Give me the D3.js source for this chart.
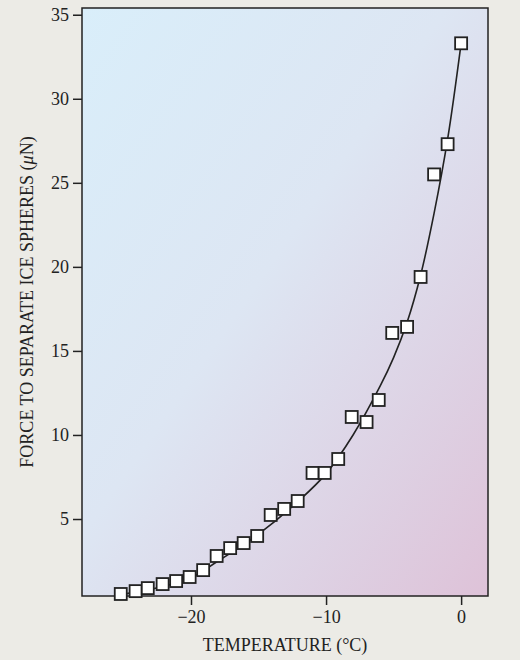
<!DOCTYPE html><html><head><meta charset="utf-8">
<script src="https://cdn.jsdelivr.net/npm/d3@7"></script>
<style>body{margin:0;background:#ecebe6}svg{display:block}</style></head><body>
<script>
const temps=[-25.2,-24.1,-23.2,-22.1,-21.1,-20.1,-19.1,-18.1,-17.1,-16.1,-15.1,-14.1,-13.1,-12.1,-11.0,-10.1,-9.1,-8.1,-7.0,-6.1,-5.1,-4.0,-3.0,-2.0,-1.0,0];
const forces=[0.54,0.71,0.89,1.13,1.31,1.55,1.96,2.8,3.27,3.57,3.99,5.24,5.6,6.07,7.74,7.74,8.57,11.07,10.77,12.08,16.07,16.43,19.4,25.5,27.3,33.3];
const curveT=[-25.2,-22,-20,-18,-15,-12,-10,-8,-6,-5,-4,-3,-2,-1,0];
const curveF=[0.5,1.0,1.5,2.5,4.1,6.1,7.7,10.0,12.9,14.6,16.7,19.5,23.2,27.6,33.3];
const xTicks=[-20,-10,0], yTicks=[5,10,15,20,25,30,35];
const W=520,H=660,m={l:82,r:32,t:8,b:64};
const svg=d3.select("body").append("svg").attr("width",W).attr("height",H);
const x=d3.scaleLinear().domain([-28.07,1.99]).range([m.l,W-m.r]);
const y=d3.scaleLinear().domain([0.42,35.4]).range([H-m.b,m.t]);
const g=svg.append("defs").append("linearGradient").attr("id","bg").attr("x1","0").attr("y1","0").attr("x2","1").attr("y2","1");
g.append("stop").attr("offset","0").attr("stop-color","#d9eefa");
g.append("stop").attr("offset","0.45").attr("stop-color","#dde6f3");
g.append("stop").attr("offset","1").attr("stop-color","#dec2d8");
svg.append("rect").attr("x",m.l).attr("y",m.t).attr("width",W-m.r-m.l).attr("height",H-m.b-m.t).attr("fill","url(#bg)").attr("stroke","#222").attr("stroke-width",1.5);
const font="Liberation Serif, serif";
const xa=svg.append("g").attr("transform",`translate(0,${H-m.b})`).call(d3.axisBottom(x).tickValues(xTicks).tickSize(9).tickPadding(5).tickFormat(d=>d<0?"\u2212"+(-d):d));
const ya=svg.append("g").attr("transform",`translate(${m.l},0)`).call(d3.axisLeft(y).tickValues(yTicks).tickSize(9).tickPadding(4));
[xa,ya].forEach(a=>{a.select(".domain").remove();a.selectAll("line").attr("stroke","#222").attr("stroke-width",1.5);a.selectAll("text").attr("font-family",font).attr("font-size",18).attr("fill","#222");});
svg.append("path").datum(curveT.map((t,i)=>[t,curveF[i]])).attr("fill","none").attr("stroke","#222").attr("stroke-width",1.6)
 .attr("d",d3.line().x(d=>x(d[0])).y(d=>y(d[1])).curve(d3.curveCatmullRom));
svg.selectAll("rect.pt").data(temps).enter().append("rect").attr("class","pt")
 .attr("x",(d)=>x(d)-6).attr("y",(d,i)=>y(forces[i])-6).attr("width",12).attr("height",12)
 .attr("fill","#fff").attr("stroke","#222").attr("stroke-width",1.8);
svg.append("text").attr("x",(m.l+W-m.r)/2).attr("y",H-9).attr("text-anchor","middle").attr("font-family",font).attr("font-size",18).attr("fill","#222").text("TEMPERATURE (°C)");
svg.append("text").attr("transform",`translate(33,${(m.t+H-m.b)/2}) rotate(-90)`).attr("text-anchor","middle").attr("font-family",font).attr("font-size",18).attr("fill","#222")
 .html('FORCE TO SEPARATE ICE SPHERES (<tspan font-style="italic">μ</tspan>N)');
</script></body></html>
